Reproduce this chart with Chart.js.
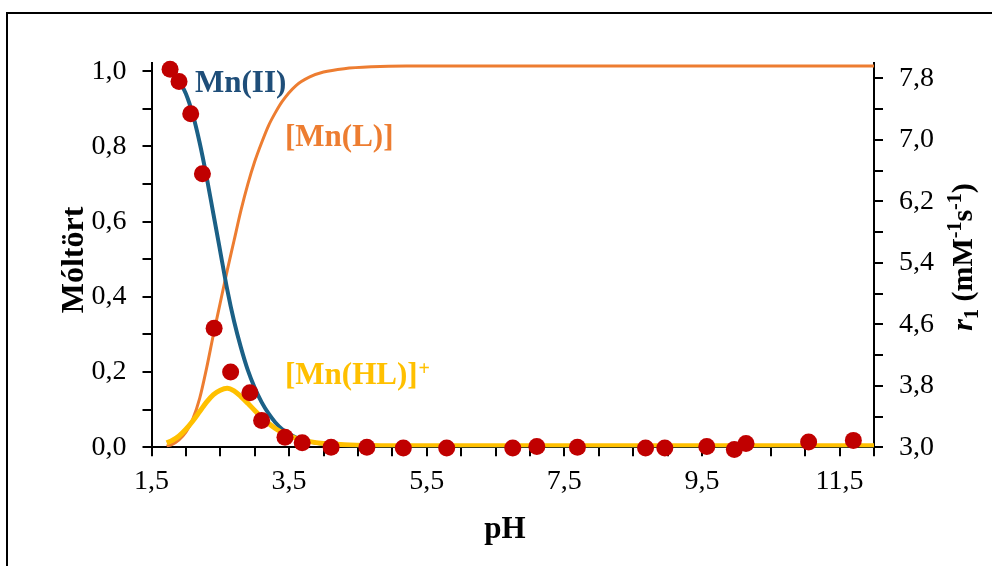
<!DOCTYPE html>
<html lang="hu">
<head>
<meta charset="UTF-8">
<title>Mn(II) eloszlás és relaxivitás - pH</title>
<script src="https://cdn.jsdelivr.net/npm/chart.js"></script>
<style>
  body { margin: 0; background: #fff; }
  #wrap { width: 992px; height: 566px; }
</style>
</head>
<body>
<div id="wrap"><canvas id="chart" width="992" height="566"></canvas></div>
<script>
// eloszlási görbék (móltört) a pH függvényében
const phGrid = [1.72, 1.8, 1.9, 2.0, 2.1, 2.2, 2.3, 2.4, 2.5, 2.6, 2.7, 2.8, 2.9, 3.0, 3.1, 3.2, 3.3, 3.4, 3.6, 3.8, 4.0, 4.3, 4.7, 5.2, 6.0, 8.0, 10.0, 12.0];
const mnFree = [null, null, 0.975, 0.94, 0.885, 0.81, 0.72, 0.62, 0.52, 0.42, 0.335, 0.265, 0.205, 0.158, 0.12, 0.09, 0.066, 0.048, 0.026, 0.015, 0.009, 0.005, 0.003, 0.002, 0.002, 0.002, 0.002, 0.002];
const mnL = [0.003, 0.008, 0.02, 0.04, 0.075, 0.13, 0.21, 0.30, 0.385, 0.47, 0.55, 0.63, 0.70, 0.76, 0.81, 0.855, 0.89, 0.92, 0.962, 0.985, 0.998, 1.007, 1.012, 1.014, 1.014, 1.014, 1.014, 1.014];
const mnHL = [0.012, 0.018, 0.03, 0.048, 0.07, 0.095, 0.12, 0.14, 0.152, 0.157, 0.15, 0.135, 0.117, 0.098, 0.08, 0.064, 0.05, 0.039, 0.024, 0.015, 0.01, 0.007, 0.005, 0.004, 0.004, 0.004, 0.004, 0.004];

// mért relaxivitás (r1, mM-1 s-1)
const relaxPH = [1.77, 1.90, 2.07, 2.24, 2.41, 2.65, 2.93, 3.10, 3.44, 3.69, 4.11, 4.63, 5.16, 5.79, 6.75, 7.10, 7.69, 8.68, 8.96, 9.57, 9.97, 10.14, 11.05, 11.70];
const relaxR1 = [7.92, 7.76, 7.34, 6.56, 4.55, 3.98, 3.71, 3.35, 3.13, 3.06, 3.00, 3.00, 2.99, 2.99, 2.99, 3.01, 3.00, 2.99, 2.99, 3.01, 2.97, 3.05, 3.07, 3.09];

// tengelyek beosztása
const xTicks = [1.5, 2, 2.5, 3, 3.5, 4, 4.5, 5, 5.5, 6, 6.5, 7, 7.5, 8, 8.5, 9, 9.5, 10, 10.5, 11, 11.5, 12];
const xLabels = [1.5, 3.5, 5.5, 7.5, 9.5, 11.5];
const yTicks = [0, 0.1, 0.2, 0.3, 0.4, 0.5, 0.6, 0.7, 0.8, 0.9, 1.0];
const yLabels = [0, 0.2, 0.4, 0.6, 0.8, 1.0];
const y1Ticks = [3.0, 3.4, 3.8, 4.2, 4.6, 5.0, 5.4, 5.8, 6.2, 6.6, 7.0, 7.4, 7.8];
const y1Labels = [3.0, 3.8, 4.6, 5.4, 6.2, 7.0, 7.8];

const serif = '"Liberation Serif", "Times New Roman", serif';

function pairs(xs, ys) {
  return xs.map((x, i) => ({ x: x, y: ys[i] }));
}
function fmt(list) {
  return v => list.some(l => Math.abs(l - v) < 1e-6) ? v.toFixed(1).replace('.', ',') : '';
}
function setTicks(list) {
  return s => { s.ticks = list.map(v => ({ value: v })); };
}

// szöveg darabokból (index, kitevő), opcionálisan elforgatva
function drawRuns(ctx, runs, cx, cy, rotate, shift) {
  let w = 0;
  runs.forEach(r => { ctx.font = r.f; r.w = ctx.measureText(r.t).width; w += r.w; });
  ctx.save();
  ctx.translate(cx, cy);
  if (rotate) ctx.rotate(-Math.PI / 2);
  let x = -w / 2;
  runs.forEach(r => {
    ctx.font = r.f;
    ctx.fillText(r.t, x, shift + (r.dy || 0));
    x += r.w;
  });
  ctx.restore();
}

const textPlugin = {
  id: 'texts',
  afterDraw(chart) {
    const ctx = chart.ctx;
    ctx.save();
    // keret
    ctx.strokeStyle = '#000';
    ctx.lineWidth = 2;
    ctx.beginPath();
    ctx.moveTo(7, 566); ctx.lineTo(7, 13); ctx.lineTo(992, 13);
    ctx.stroke();

    ctx.textBaseline = 'alphabetic';
    const b31 = 'bold 31px ' + serif;
    const b30 = 'bold 30px ' + serif;
    const b20 = 'bold 20px ' + serif;
    ctx.font = b31;
    ctx.fillStyle = '#1F4E79';
    ctx.fillText('Mn(II)', 195, 92);
    ctx.fillStyle = '#ED7D31';
    ctx.fillText('[Mn(L)]', 285, 146);
    ctx.fillStyle = '#FFC000';
    ctx.fillText('[Mn(HL)]', 285, 384);
    const w = ctx.measureText('[Mn(HL)]').width;
    ctx.font = b20;
    ctx.fillText('+', 285 + w + 1, 375);

    ctx.fillStyle = '#000';
    drawRuns(ctx, [{ t: 'Móltört', f: 'bold 32px ' + serif }], 72, 260, true, 11);
    drawRuns(ctx, [{ t: 'pH', f: 'bold 31px ' + serif }], 505, 538, false, 0);
    drawRuns(ctx, [
      { t: 'r', f: 'italic bold 30px ' + serif },
      { t: '1', f: b20, dy: 6 },
      { t: ' (mM', f: b30 },
      { t: '-1', f: b20, dy: -11 },
      { t: 's', f: b30 },
      { t: '-1', f: b20, dy: -11 },
      { t: ')', f: b30 }
    ], 962, 257, true, 10);
    ctx.restore();
  }
};

const tickFont = { family: serif, size: 28 };
const axisGrid = { drawOnChartArea: false, color: '#000', lineWidth: 2, tickLength: 9 };
const axisBorder = { display: true, color: '#000', width: 2 };

new Chart(document.getElementById('chart'), {
  type: 'line',
  data: {
    datasets: [
      {
        label: 'r1',
        data: pairs(relaxPH, relaxR1),
        yAxisID: 'y1',
        showLine: false,
        pointRadius: 8.5,
        pointBackgroundColor: '#C00000',
        pointBorderWidth: 0,
        clip: false
      },
      {
        label: '[Mn(HL)]+',
        data: pairs(phGrid, mnHL),
        yAxisID: 'y',
        borderColor: '#FFC000',
        borderWidth: 5,
        pointRadius: 0,
        cubicInterpolationMode: 'monotone'
      },
      {
        label: 'Mn(II)',
        data: pairs(phGrid, mnFree),
        yAxisID: 'y',
        borderColor: '#1B6086',
        borderWidth: 4,
        pointRadius: 0,
        cubicInterpolationMode: 'monotone'
      },
      {
        label: '[Mn(L)]',
        data: pairs(phGrid, mnL),
        yAxisID: 'y',
        borderColor: '#ED7D31',
        borderWidth: 3,
        pointRadius: 0,
        cubicInterpolationMode: 'monotone'
      }
    ]
  },
  options: {
    responsive: false,
    animation: false,
    events: [],
    layout: { padding: { top: 63, left: 0, right: 0, bottom: 0 } },
    plugins: { legend: { display: false }, tooltip: { enabled: false } },
    scales: {
      x: {
        type: 'linear',
        position: 'bottom',
        min: 1.5,
        max: 12,
        afterBuildTicks: setTicks(xTicks),
        afterFit: s => { s.height = 118.7; },
        ticks: { callback: fmt(xLabels), font: tickFont, color: '#000', padding: 9, maxRotation: 0, autoSkip: false },
        grid: axisGrid,
        border: axisBorder
      },
      y: {
        type: 'linear',
        position: 'left',
        min: 0,
        max: 1.022,
        afterBuildTicks: setTicks(yTicks),
        afterFit: s => { s.width = 151.5; },
        ticks: { callback: fmt(yLabels), font: tickFont, color: '#000', padding: 16, autoSkip: false },
        grid: axisGrid,
        border: axisBorder
      },
      y1: {
        type: 'linear',
        position: 'right',
        min: 3.0,
        max: 8.0,
        afterBuildTicks: setTicks(y1Ticks),
        afterFit: s => { s.width = 118; },
        ticks: { callback: fmt(y1Labels), font: tickFont, color: '#000', padding: 16, autoSkip: false },
        grid: axisGrid,
        border: axisBorder
      }
    }
  },
  plugins: [textPlugin]
});
</script>
</body>
</html>
